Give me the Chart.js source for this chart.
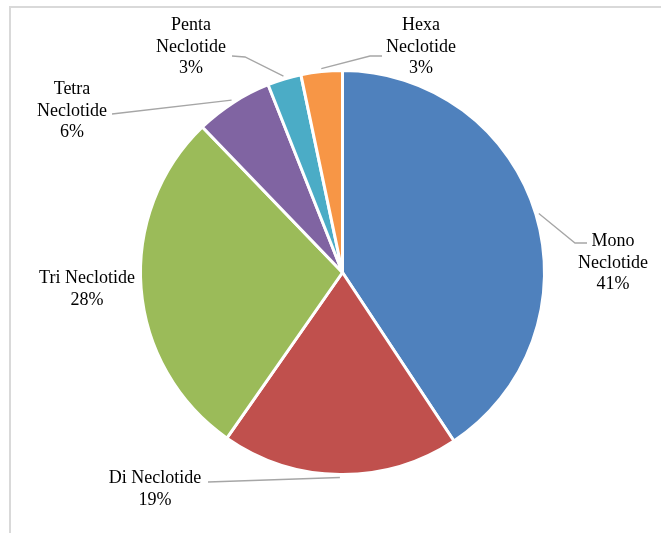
<!DOCTYPE html>
<html>
<head>
<meta charset="utf-8">
<script src="https://cdn.jsdelivr.net/npm/chart.js@4/dist/chart.umd.min.js"></script>
<style>
html,body{margin:0;padding:0;background:#fff;}
canvas{display:block;}
</style>
</head>
<body>
<canvas id="c" width="661" height="533"></canvas>
<script>
// ---- data ----
const categories = ['Mono Neclotide','Di Neclotide','Tri Neclotide','Tetra Neclotide','Penta Neclotide','Hexa Neclotide'];
const values = [40.7, 19.0, 28.1, 6.2, 2.7, 3.3];
const percentLabels = ['41%','19%','28%','6%','3%','3%'];
const labelLines = [
  ['Mono','Neclotide'],
  ['Di Neclotide'],
  ['Tri Neclotide'],
  ['Tetra','Neclotide'],
  ['Penta','Neclotide'],
  ['Hexa','Neclotide']
];
const colors = ['#4F81BD','#C0504D','#9BBB59','#8064A2','#4BACC6','#F79646'];

// ---- layout (label placement, leader-line routing) ----
const labelLayout = [
  {cx:613, y:246, leader:[[575,243],[587,243]]},
  {cx:155, y:483, leader:[[208,482]]},
  {cx:87,  y:283, leader:null},
  {cx:72,  y:94,  leader:[[112,114]]},
  {cx:191, y:30,  leader:[[245,57],[232,56]]},
  {cx:421, y:30,  leader:[[370,56],[382,56]]}
];
const lineGap = 21.5;

const framePlugin = {
  id:'frame',
  beforeDraw(chart){
    const ctx = chart.ctx;
    ctx.save();
    ctx.strokeStyle = '#d9d9d9';
    ctx.lineWidth = 2;
    ctx.beginPath();
    ctx.moveTo(10, 533);
    ctx.lineTo(10, 7);
    ctx.lineTo(661, 7);
    ctx.stroke();
    ctx.restore();
  }
};

const labelPlugin = {
  id:'pieLabels',
  afterDraw(chart){
    const ctx = chart.ctx;
    const meta = chart.getDatasetMeta(0);
    ctx.save();
    meta.data.forEach((arc, i) => {
      const L = labelLayout[i];
      const p = arc.getProps(['x','y','startAngle','endAngle','outerRadius'], true);
      const mid = (p.startAngle + p.endAngle) / 2;
      if (L.leader) {
        const r = p.outerRadius + 3;
        ctx.strokeStyle = '#a6a6a6';
        ctx.lineWidth = 1.3;
        ctx.beginPath();
        ctx.moveTo(p.x + Math.cos(mid) * r, p.y + Math.sin(mid) * r);
        L.leader.forEach(pt => ctx.lineTo(pt[0], pt[1]));
        ctx.stroke();
      }
      ctx.fillStyle = '#000';
      ctx.font = '18px "Liberation Serif", "Times New Roman", serif';
      ctx.textAlign = 'center';
      ctx.textBaseline = 'alphabetic';
      const lines = labelLines[i].concat([percentLabels[i]]);
      lines.forEach((t, k) => ctx.fillText(t, L.cx, L.y + k * lineGap));
    });
    ctx.restore();
  }
};

new Chart(document.getElementById('c'), {
  type:'pie',
  data:{
    labels: categories,
    datasets:[{
      data: values,
      backgroundColor: colors,
      borderColor:'#ffffff',
      borderWidth:3,
      radius:202
    }]
  },
  options:{
    responsive:false,
    animation:false,
    layout:{padding:{left:24,right:0,top:12,bottom:0}},
    plugins:{legend:{display:false}, tooltip:{enabled:false}}
  },
  plugins:[framePlugin, labelPlugin]
});
</script>
</body>
</html>
